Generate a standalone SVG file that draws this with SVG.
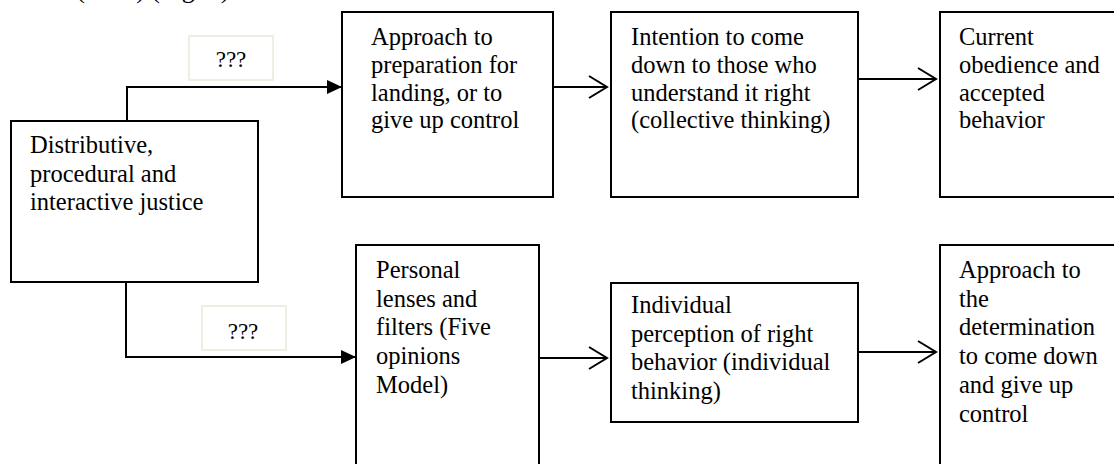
<svg xmlns="http://www.w3.org/2000/svg" width="1114" height="464" viewBox="0 0 1114 464">
<style>
.box{fill:#fff;stroke:#000;stroke-width:2}
.lbl{fill:#fff;stroke:#ece9dc;stroke-width:1.5}
text{font-family:'Liberation Serif','DejaVu Serif',serif;fill:#000}
.t{font-size:24.5px}
.q{font-size:23px;text-anchor:middle}
.c{fill:none;stroke:#000;stroke-width:2}
</style>
<defs>
<marker id="fill" markerUnits="userSpaceOnUse" viewBox="0 0 15 14" refX="15" refY="7" markerWidth="15" markerHeight="14" orient="auto">
<path d="M0,0 L15,7 L0,14 Z" fill="#000"/>
</marker>
<marker id="open" markerUnits="userSpaceOnUse" viewBox="-1 -1 21 24" refX="18" refY="11" markerWidth="21" markerHeight="24" orient="auto">
<path d="M0,0 L18,11 L0,22" fill="none" stroke="#000" stroke-width="2"/>
</marker>
</defs>
<text font-family="Liberation Serif, serif" x="38" y="-2" font-size="26">ses (??? s) (Fig. 1).</text>
<g id="connectors">
<path class="c" d="M127,121 V87 H342" marker-end="url(#fill)"/>
<path class="c" d="M126,282 V357 H356" marker-end="url(#fill)"/>
<path class="c" d="M538,87 H607" marker-end="url(#open)"/>
<path class="c" d="M846,79 H936" marker-end="url(#open)"/>
<path class="c" d="M539,358 H607" marker-end="url(#open)"/>
<path class="c" d="M846,352 H936" marker-end="url(#open)"/>
</g>
<g id="label-top">
<rect class="lbl" x="189" y="36" width="84" height="44"/>
<text class="q" x="231" y="67">???</text>
</g>
<g id="label-bottom">
<rect class="lbl" x="202" y="306" width="84" height="44"/>
<text class="q" x="243" y="339">???</text>
</g>
<g id="node-justice">
<rect class="box" x="11" y="121" width="247" height="161"/>
<text class="t" x="30" y="153">Distributive,<tspan x="30" dy="28.5">procedural and</tspan><tspan x="30" dy="28.5">interactive justice</tspan></text>
</g>
<g id="node-approach-landing">
<rect class="box" x="342" y="12" width="211" height="185"/>
<text class="t" x="371" y="45">Approach to<tspan x="371" dy="27.8">preparation for</tspan><tspan x="371" dy="27.8">landing, or to</tspan><tspan x="371" dy="27.8">give up control</tspan></text>
</g>
<g id="node-intention">
<rect class="box" x="611" y="12" width="247" height="185"/>
<text class="t" x="631" y="45">Intention to come<tspan x="631" dy="27.8">down to those who</tspan><tspan x="631" dy="27.8">understand it right</tspan><tspan x="631" dy="27.8">(collective thinking)</tspan></text>
</g>
<g id="node-obedience">
<rect class="box" x="940" y="12" width="190" height="185"/>
<text class="t" x="959" y="45">Current<tspan x="959" dy="27.8">obedience and</tspan><tspan x="959" dy="27.8">accepted</tspan><tspan x="959" dy="27.8">behavior</tspan></text>
</g>
<g id="node-personal">
<rect class="box" x="356" y="245" width="183" height="240"/>
<text class="t" x="376" y="278">Personal<tspan x="376" dy="28.7">lenses and</tspan><tspan x="376" dy="28.7">filters (Five</tspan><tspan x="376" dy="28.7">opinions</tspan><tspan x="376" dy="28.7">Model)</tspan></text>
</g>
<g id="node-individual">
<rect class="box" x="611" y="283" width="247" height="139"/>
<text class="t" x="631" y="313">Individual<tspan x="631" dy="28.5">perception of right</tspan><tspan x="631" dy="28.5">behavior (individual</tspan><tspan x="631" dy="28.5">thinking)</tspan></text>
</g>
<g id="node-determination">
<rect class="box" x="940" y="245" width="190" height="240"/>
<text class="t" x="959" y="278">Approach to<tspan x="959" dy="28.7">the</tspan><tspan x="959" dy="28.7">determination</tspan><tspan x="959" dy="28.7">to come down</tspan><tspan x="959" dy="28.7">and give up</tspan><tspan x="959" dy="28.7">control</tspan></text>
</g>
</svg>
